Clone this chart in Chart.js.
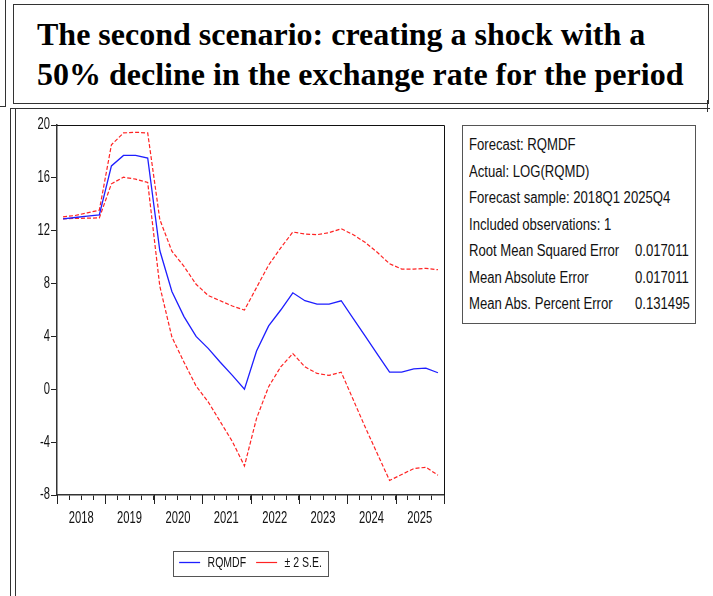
<!DOCTYPE html>
<html>
<head>
<meta charset="utf-8">
<script src="https://cdn.jsdelivr.net/npm/chart.js@4/dist/chart.umd.min.js"></script>
<style>
  html, body { margin: 0; padding: 0; background: #fff; }
  body { width: 713px; height: 596px; position: relative; overflow: hidden; }
  .frame { position: absolute; box-sizing: border-box; }
  #leftBox { left: -4px; top: -4px; width: 10px; height: 111px; border-right: 1.5px solid #333; border-bottom: 1.5px solid #333; }
  #titleBox { left: 13px; top: 4px; width: 696px; height: 100px; border: 1.5px solid #333; }
  #titleBoxShadow { left: 706px; top: 100px; width: 2px; height: 12px; border-right: 1.5px solid #333; }
  #lowerFrame { left: 10px; top: 108px; width: 700px; height: 500px; border-left: 1.5px solid #333; border-top: 1.5px solid #333; }
  #lowerFrame2 { left: 15px; top: 109px; width: 2px; height: 500px; border-left: 1.5px solid #333; }
  #title {
    position: absolute; left: 37px; top: 14px; margin: 0;
    font-family: "Liberation Serif", "Times New Roman", serif; font-weight: bold;
    font-size: 32px; line-height: 40px; color: #000; white-space: nowrap;
  }
  #chartWrap { position: absolute; left: 15px; top: 110px; width: 440px; height: 486px; }
  #info {
    position: absolute; left: 462px; top: 125px; width: 234px; height: 199px;
    box-sizing: border-box; border: 1px solid #555;
    font-family: "Liberation Sans", Arial, sans-serif; font-size: 16px;
    line-height: 20px; color: #111;
  }
  #info span { position: absolute; white-space: nowrap; transform: scaleX(0.82); transform-origin: 0 0; }
</style>
</head>
<body>
<div class="frame" id="leftBox"></div>
<div class="frame" id="lowerFrame"></div>
<div class="frame" id="lowerFrame2"></div>
<div class="frame" id="titleBox"></div>
<div class="frame" id="titleBoxShadow"></div>
<div id="title">The second scenario: creating a shock with a<br>50% decline in the exchange rate for the period</div>
<div id="chartWrap"><canvas id="chart" width="440" height="486"></canvas></div>
<div id="info"></div>

<script>
// Forecast horizon: quarterly, 2018Q1 - 2025Q4
const years = ['2018', '2019', '2020', '2021', '2022', '2023', '2024', '2025'];
const quarters = years.flatMap(y => ['Q1', 'Q2', 'Q3', 'Q4'].map(q => y + q));

// RQMDF forecast
const rqmdf = [12.9, 13.0, 13.1, 13.2, 16.9, 17.7, 17.7, 17.5,
               10.5, 7.4, 5.5, 4.0, 3.1, 2.05, 1.05, 0.0,
               2.9, 4.8, 6.0, 7.3, 6.7, 6.45, 6.45, 6.7,
               5.35, 4.0, 2.65, 1.3, 1.3, 1.55, 1.6, 1.25];
// forecast + 2 S.E.
const upperBand = [13.05, 13.15, 13.35, 13.55, 18.5, 19.4, 19.45, 19.4,
                   12.85, 10.45, 9.3, 7.95, 7.1, 6.7, 6.3, 6.0,
                   7.7, 9.4, 10.7, 11.9, 11.75, 11.7, 11.85, 12.15,
                   11.7, 11.1, 10.35, 9.5, 9.1, 9.1, 9.15, 9.05];
// forecast - 2 S.E.
const lowerBand = [12.9, 12.93, 12.95, 12.97, 15.55, 16.05, 15.9, 15.65,
                   7.8, 3.95, 2.05, 0.25, -0.95, -2.45, -3.95, -5.8,
                   -2.2, 0.2, 1.7, 2.7, 1.7, 1.2, 1.05, 1.3,
                   -0.8, -2.9, -4.9, -6.9, -6.45, -6.0, -5.9, -6.5];

const yTicks = [-8, -4, 0, 4, 8, 12, 16, 20];

// Forecast evaluation statistics
const statLabels = ['Forecast: RQMDF', 'Actual: LOG(RQMD)', 'Forecast sample: 2018Q1 2025Q4',
                    'Included observations: 1', 'Root Mean Squared Error',
                    'Mean Absolute Error', 'Mean Abs. Percent Error'];
const statValues = ['', '', '', '', '0.017011', '0.017011', '0.131495'];

// statistics table, set in a narrow face
const info = document.getElementById('info');
statLabels.forEach((lab, i) => {
  const top = 9 + i * 26.5;
  const a = document.createElement('span');
  a.textContent = lab;
  a.style.left = '6px';
  a.style.top = top + 'px';
  info.appendChild(a);
  if (statValues[i]) {
    const v = document.createElement('span');
    v.textContent = statValues[i];
    v.style.left = '172px';
    v.style.top = top + 'px';
    info.appendChild(v);
  }
});

// condensed lettering for the graph: squeeze every string horizontally
// around its anchor, and report the squeezed width to the layout
const canvas = document.getElementById('chart');
const c2d = canvas.getContext('2d');
const SQUEEZE = 0.7;
const baseFill = c2d.fillText;
const baseMeasure = c2d.measureText;
c2d.fillText = function (text, x, y, maxWidth) {
  this.save();
  this.translate(x, y);
  this.scale(SQUEEZE, 1);
  if (maxWidth !== undefined) baseFill.call(this, text, 0, 0, maxWidth / SQUEEZE);
  else baseFill.call(this, text, 0, 0);
  this.restore();
};
c2d.measureText = function (text) {
  const m = baseMeasure.call(this, text);
  return {
    width: m.width * SQUEEZE,
    actualBoundingBoxAscent: m.actualBoundingBoxAscent,
    actualBoundingBoxDescent: m.actualBoundingBoxDescent,
    actualBoundingBoxLeft: m.actualBoundingBoxLeft * SQUEEZE,
    actualBoundingBoxRight: m.actualBoundingBoxRight * SQUEEZE
  };
};

// each quarter sits in the middle of its slot on the time axis
const toPoints = arr => arr.map((v, i) => ({ x: i + 0.5, y: v, q: quarters[i] }));

const sans = '"Liberation Sans", Arial, sans-serif';

// frame on top/right, longer year ticks, and a box around the legend
const decorations = {
  id: 'decorations',
  afterDraw(chart) {
    const { ctx, chartArea: a, scales } = chart;
    ctx.save();
    ctx.strokeStyle = '#111';
    ctx.lineWidth = 1;
    ctx.beginPath();
    ctx.moveTo(a.left, a.top + 0.5);
    ctx.lineTo(a.right + 0.5, a.top + 0.5);
    ctx.lineTo(a.right + 0.5, a.bottom);
    ctx.stroke();

    ctx.strokeStyle = '#222';
    ctx.beginPath();
    for (let v = 0; v <= quarters.length; v += 4) {
      const x = Math.round(scales.x.getPixelForValue(v)) + 0.5;
      ctx.moveTo(x, a.bottom);
      ctx.lineTo(x, a.bottom + 9);
    }
    ctx.stroke();

    const boxes = chart.legend.legendHitBoxes;
    if (boxes && boxes.length) {
      const first = boxes[0], last = boxes[boxes.length - 1];
      const cy = first.top + first.height / 2;
      const x0 = Math.round(first.left - 6) + 0.5;
      const x1 = Math.round(last.left + last.width + 6) + 0.5;
      const y0 = Math.round(cy - 12) + 0.5;
      ctx.strokeStyle = '#555';
      ctx.strokeRect(x0, y0, x1 - x0, 25);
    }
    ctx.restore();
  }
};

new Chart(canvas, {
  type: 'line',
  data: {
    datasets: [
      {
        label: 'RQMDF',
        data: toPoints(rqmdf),
        borderColor: 'rgb(30,30,255)',
        backgroundColor: 'rgb(30,30,255)',
        borderWidth: 1.3,
        pointRadius: 0,
        tension: 0
      },
      {
        label: '± 2 S.E.',
        data: toPoints(upperBand),
        borderColor: 'rgb(255,35,35)',
        backgroundColor: 'rgb(255,35,35)',
        borderWidth: 1.2,
        borderDash: [4, 2],
        pointRadius: 0,
        tension: 0
      },
      {
        label: 'lower',
        data: toPoints(lowerBand),
        borderColor: 'rgb(255,35,35)',
        backgroundColor: 'rgb(255,35,35)',
        borderWidth: 1.2,
        borderDash: [4, 2],
        pointRadius: 0,
        tension: 0
      }
    ]
  },
  options: {
    responsive: false,
    animation: false,
    layout: { padding: { top: 15, right: 11, left: 0, bottom: 16 } },
    plugins: {
      tooltip: { enabled: false },
      legend: {
        position: 'bottom',
        fullSize: false,
        labels: {
          filter: item => item.datasetIndex < 2,
          usePointStyle: true,
          pointStyle: 'line',
          pointStyleWidth: 21,
          padding: 10,
          color: '#111',
          font: { family: sans, size: 15 }
        }
      }
    },
    scales: {
      x: {
        type: 'linear',
        min: 0,
        max: quarters.length,
        afterFit: s => { s.height = 50; },
        border: { display: true, color: '#333', width: 1.5 },
        grid: { drawOnChartArea: false, drawTicks: true, tickLength: 5, tickColor: '#222' },
        ticks: {
          stepSize: 1,
          autoSkip: false,
          maxRotation: 0,
          padding: 9,
          color: '#111',
          font: { family: sans, size: 16 },
          callback: v => (v % 4 === 2 ? years[(v - 2) / 4] : '')
        }
      },
      y: {
        min: yTicks[0],
        max: yTicks[yTicks.length - 1],
        afterFit: s => { s.width = 42; },
        afterBuildTicks: s => { s.ticks = yTicks.map(v => ({ value: v })); },
        border: { display: true, color: '#333', width: 1.5 },
        grid: { drawOnChartArea: false, drawTicks: true, tickLength: 6, tickColor: '#222' },
        ticks: {
          padding: 1,
          color: '#111',
          font: { family: sans, size: 16 }
        }
      }
    }
  },
  plugins: [decorations]
});
</script>
</body>
</html>
